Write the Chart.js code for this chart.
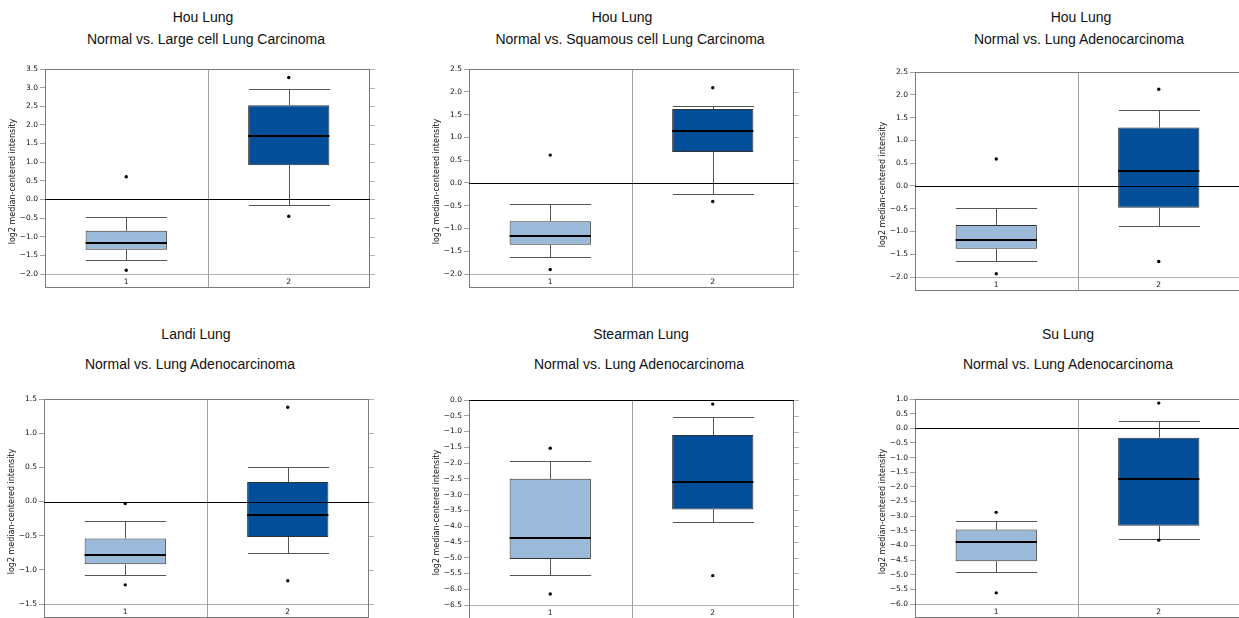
<!DOCTYPE html>
<html><head><meta charset="utf-8">
<script src="https://cdn.jsdelivr.net/npm/chart.js@4.4.1/dist/chart.umd.min.js"></script>
<style>
html,body{margin:0;padding:0;background:#fff;overflow:hidden;width:1239px;height:618px;position:relative;}
.t{position:absolute;font-family:"Liberation Sans",Arial,Helvetica,sans-serif;font-size:14px;color:#111;white-space:nowrap;transform:translate(-50%,-50%);line-height:1;}
canvas{position:absolute;}
</style></head><body>
<script>
// ---------- data ----------
const categories = ['1', '2'];
const datasetNames = ['Hou Lung', 'Hou Lung', 'Hou Lung', 'Landi Lung', 'Stearman Lung', 'Su Lung'];
const comparisons = [
  'Normal vs. Large cell Lung Carcinoma',
  'Normal vs. Squamous cell Lung Carcinoma',
  'Normal vs. Lung Adenocarcinoma',
  'Normal vs. Lung Adenocarcinoma',
  'Normal vs. Lung Adenocarcinoma',
  'Normal vs. Lung Adenocarcinoma'
];
const yAxisLabel = 'log2 median-centered intensity';
const yTickMin = [-2.0, -2.0, -2.0, -1.5, -6.5, -6.0];
const yTickMax = [3.5, 2.5, 2.5, 1.5, 0.0, 1.0];
const yTickStep = 0.5;
// per panel: [class 1 (Normal), class 2 (Cancer)]
const whiskerLow  = [[-1.62, -0.14], [-1.63, -0.25], [-1.64, -0.89], [-1.07, -0.75], [-5.55, -3.86], [-4.90, -3.78]];
const q1          = [[-1.35,  0.92], [-1.36,  0.68], [-1.38, -0.48], [-0.92, -0.52], [-5.04, -3.47], [-4.54, -3.33]];
const median      = [[-1.16,  1.71], [-1.17,  1.13], [-1.19,  0.33], [-0.79, -0.20], [-4.39, -2.59], [-3.89, -1.72]];
const q3          = [[-0.84,  2.53], [-0.84,  1.62], [-0.86,  1.28], [-0.54,  0.285], [-2.50, -1.11], [-3.46, -0.32]];
const whiskerHigh = [[-0.47,  2.95], [-0.47,  1.69], [-0.48,  1.66], [-0.29,  0.51], [-1.94, -0.55], [-3.16,  0.24]];
const outlierHigh = [[ 0.61,  3.27], [ 0.61,  2.09], [ 0.59,  2.12], [-0.03,  1.38], [-1.53, -0.13], [-2.87,  0.86]];
const outlierLow  = [[-1.90, -0.45], [-1.90, -0.41], [-1.93, -1.66], [-1.22, -1.16], [-6.15, -5.57], [-5.62, -3.82]];

// ---------- layout (plot-area placement) ----------
const plotLeft = [45, 469, 915, 44, 469, 915];
const plotTop  = [69, 69, 72, 399, 400, 399];
const plotW = 325, plotH = 205, band = 14;
const titleLine1 = [[203, 17], [622, 17], [1081, 17], [196, 334], [641, 334], [1068, 334]];
const titleLine2 = [[206, 39], [630, 39], [1079, 39], [190, 364], [639, 364], [1068, 364]];

const boxColors = ['#9BB9D9', '#024E98'];
const fmt = v => { const s = Math.abs(v).toFixed(1); return (v < -1e-9 ? '\u2212' : '') + s; };

function addText(txt, pos) {
  const d = document.createElement('div');
  d.className = 't';
  d.textContent = txt;
  d.style.left = pos[0] + 'px';
  d.style.top = pos[1] + 'px';
  document.body.appendChild(d);
}

function makePlugin(i) {
  return {
    id: 'boxDecor' + i,
    beforeDatasetsDraw(chart) {
      const {ctx, chartArea: a, scales: {x, y}} = chart;
      ctx.save();
      ctx.lineWidth = 1;
      // bottom tick line (minimum)
      const yb = Math.round(y.getPixelForValue(yTickMin[i])) + 0.5;
      ctx.strokeStyle = '#b0b0b0';
      ctx.beginPath(); ctx.moveTo(a.left, yb); ctx.lineTo(a.right + 5, yb); ctx.stroke();
      // right side tick marks
      y.ticks.forEach(t => {
        const py = Math.round(y.getPixelForValue(t.value)) + 0.5;
        ctx.beginPath(); ctx.moveTo(a.right, py); ctx.lineTo(a.right + 5, py); ctx.stroke();
      });
      // divider between categories
      const xm = Math.round((x.getPixelForValue(0) + x.getPixelForValue(1)) / 2) + 0.5;
      ctx.strokeStyle = '#a0a0a0';
      ctx.beginPath(); ctx.moveTo(xm, a.top); ctx.lineTo(xm, a.bottom + band); ctx.stroke();
      // frame
      ctx.strokeStyle = '#7a7a7a';
      ctx.strokeRect(a.left + 0.5, a.top + 0.5, a.right - a.left - 1, a.bottom + band - a.top - 1);
      // whiskers
      const meta = chart.getDatasetMeta(0);
      ctx.strokeStyle = '#555';
      categories.forEach((c, j) => {
        const bar = meta.data[j];
        const cx = Math.round(x.getPixelForValue(j)) + 0.5;
        const half = bar.width / 2;
        const pts = [[whiskerHigh[i][j], q3[i][j]], [whiskerLow[i][j], q1[i][j]]];
        pts.forEach(([w, q]) => {
          const pw = Math.round(y.getPixelForValue(w)) + 0.5;
          const pq = y.getPixelForValue(q);
          ctx.beginPath(); ctx.moveTo(cx, pw); ctx.lineTo(cx, pq); ctx.stroke();
          ctx.beginPath(); ctx.moveTo(cx - half, pw); ctx.lineTo(cx + half, pw); ctx.stroke();
        });
      });
      ctx.restore();
    },
    afterDatasetsDraw(chart) {
      const {ctx, chartArea: a, scales: {x, y}} = chart;
      const meta = chart.getDatasetMeta(0);
      ctx.save();
      // medians
      ctx.strokeStyle = '#000';
      ctx.lineWidth = 2;
      categories.forEach((c, j) => {
        const bar = meta.data[j];
        const pm = Math.round(y.getPixelForValue(median[i][j]));
        ctx.beginPath(); ctx.moveTo(bar.x - bar.width / 2, pm); ctx.lineTo(bar.x + bar.width / 2, pm); ctx.stroke();
      });
      // zero line
      if (yTickMin[i] <= 0 && yTickMax[i] >= 0) {
        const p0 = Math.round(y.getPixelForValue(0)) + 0.5;
        ctx.lineWidth = 1;
        ctx.strokeStyle = '#000';
        ctx.beginPath(); ctx.moveTo(a.left, p0); ctx.lineTo(a.right, p0); ctx.stroke();
      }
      // y axis title
      ctx.translate(a.left - 32, (a.top + a.bottom) / 2 + 10);
      ctx.rotate(-Math.PI / 2);
      ctx.font = '8px "DejaVu Sans"';
      ctx.fillStyle = '#111';
      ctx.textAlign = 'center';
      ctx.textBaseline = 'middle';
      ctx.fillText(yAxisLabel, 0, 0);
      ctx.restore();
    }
  };
}

for (let i = 0; i < 6; i++) {
  addText(datasetNames[i], titleLine1[i]);
  addText(comparisons[i], titleLine2[i]);
  const cv = document.createElement('canvas');
  const cw = plotW + 45 + 12, ch = plotH + 10 + band + 4;
  cv.width = cw; cv.height = ch;
  cv.style.width = cw + 'px'; cv.style.height = ch + 'px';
  cv.style.left = (plotLeft[i] - 45) + 'px';
  cv.style.top = (plotTop[i] - 10) + 'px';
  document.body.appendChild(cv);

  new Chart(cv, {
    type: 'bar',
    data: {
      labels: categories,
      datasets: [
        {
          data: categories.map((c, j) => [q1[i][j], q3[i][j]]),
          backgroundColor: boxColors,
          borderColor: '#333',
          borderWidth: 1,
          borderSkipped: false,
          barPercentage: 0.5,
          categoryPercentage: 1,
          order: 2
        },
        {
          type: 'line',
          data: outlierHigh[i],
          showLine: false,
          pointRadius: 1.7,
          pointBackgroundColor: '#000',
          pointBorderWidth: 0,
          order: 1
        },
        {
          type: 'line',
          data: outlierLow[i],
          showLine: false,
          pointRadius: 1.7,
          pointBackgroundColor: '#000',
          pointBorderWidth: 0,
          order: 1
        }
      ]
    },
    options: {
      responsive: false,
      animation: false,
      devicePixelRatio: 1,
      layout: {padding: {top: 10, left: 0, right: 12, bottom: 4}},
      plugins: {legend: {display: false}, tooltip: {enabled: false}, title: {display: false}},
      scales: {
        x: {
          type: 'category',
          offset: true,
          grid: {display: false, drawTicks: false},
          border: {display: false},
          ticks: {font: {family: 'DejaVu Sans', size: 7.5}, color: '#111', padding: 4, maxRotation: 0},
          afterFit: s => { s.height = band; }
        },
        y: {
          min: yTickMin[i],
          max: yTickMax[i],
          grid: {drawOnChartArea: false, drawTicks: true, tickLength: 5, color: '#a0a0a0'},
          border: {display: true, color: '#7a7a7a'},
          ticks: {stepSize: yTickStep, autoSkip: false, font: {family: 'DejaVu Sans', size: 7.5}, color: '#111', padding: 2, callback: v => fmt(v)},
          afterFit: s => { s.width = 45; }
        }
      }
    },
    plugins: [makePlugin(i)]
  });
}
</script>
</body></html>
